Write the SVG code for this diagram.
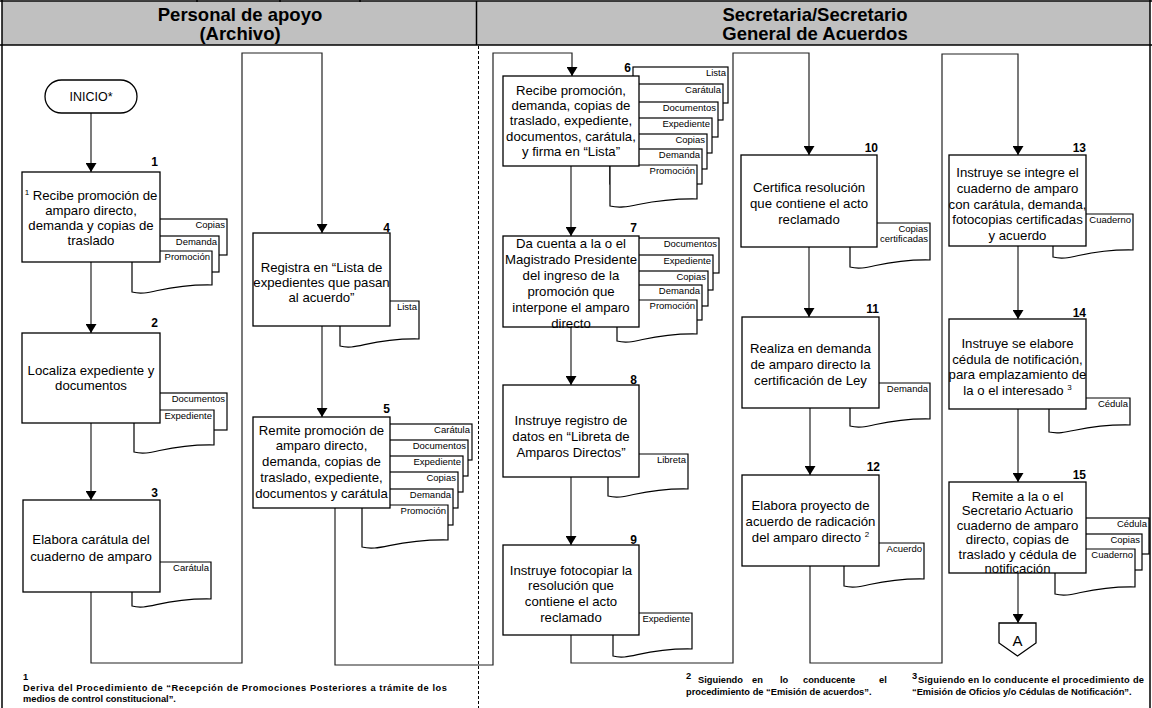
<svg xmlns="http://www.w3.org/2000/svg" width="1152" height="708" viewBox="0 0 1152 708">
  <style>
    .hdr { fill: #c0c0c0; stroke: none; }
    .frame { fill: none; stroke: #000; stroke-width: 1.5; }
    .lane { fill: none; stroke: #000; stroke-width: 1; stroke-dasharray: 3 2; }
    .box { fill: #fff; stroke: #000; stroke-width: 1.3; }
    .doc { fill: #fff; stroke: #000; stroke-width: 1.2; }
    .conn { fill: none; stroke: #222; stroke-width: 1.2; }
    text { font-family: "Liberation Sans", Arial, sans-serif; fill: #000; }
    .ht { font-size: 18.5px; font-weight: bold; text-anchor: middle; }
    .t { font-size: 13.2px; text-anchor: middle; }
    .n { font-size: 12px; font-weight: bold; text-anchor: end; }
    .dl { font-size: 9.5px; text-anchor: end; }
    .fn { font-size: 9.3px; font-weight: bold; }
    .sup { font-size: 8px; }
  </style>
  <defs>
    <marker id="arrow" markerUnits="userSpaceOnUse" markerWidth="10" markerHeight="11" refX="9" refY="5.5" orient="auto">
      <path d="M0,0 L9,5.5 L0,11 Z" fill="#000"/>
    </marker>
  </defs>

  <!-- header band and lane frame -->
  <g id="frame">
    <rect class="hdr" x="2" y="1.5" width="1148" height="43.5"/>
    <line class="frame" x1="0" y1="1" x2="1152" y2="1"/>
    <line class="frame" x1="0" y1="45" x2="1152" y2="45" stroke-width="2"/>
    <line class="frame" x1="2" y1="0" x2="2" y2="708"/>
    <line class="frame" x1="1150" y1="0" x2="1150" y2="708"/>
    <line class="frame" x1="476.5" y1="1" x2="476.5" y2="45"/>
    <line class="lane" x1="478.5" y1="46" x2="478.5" y2="708"/>
    <line class="frame" x1="197" y1="0" x2="197" y2="2"/>
    <line class="frame" x1="280" y1="0" x2="280" y2="2"/>
    <line class="frame" x1="360" y1="0" x2="360" y2="2"/>
    <text class="ht" x="240" y="21">Personal de apoyo</text>
    <text class="ht" x="240" y="40">(Archivo)</text>
    <text class="ht" x="815" y="21">Secretaria/Secretario</text>
    <text class="ht" x="815" y="40">General de Acuerdos</text>
  </g>

  <!-- connectors -->
  <g id="connectors">
    <path class="conn" d="M91,113 V172" marker-end="url(#arrow)"/>
    <path class="conn" d="M91,262 V333" marker-end="url(#arrow)"/>
    <path class="conn" d="M91,423 V500" marker-end="url(#arrow)"/>
    <path class="conn" d="M91,592 V663 H242 V53 H322 V233" marker-end="url(#arrow)"/>
    <path class="conn" d="M322,326 V417" marker-end="url(#arrow)"/>
    <path class="conn" d="M335,508 V665 H493 V53 H572 V76" marker-end="url(#arrow)"/>
    <path class="conn" d="M571,166 V236" marker-end="url(#arrow)"/>
    <path class="conn" d="M571,327 V385" marker-end="url(#arrow)"/>
    <path class="conn" d="M571,477 V545" marker-end="url(#arrow)"/>
    <path class="conn" d="M571,635 V663 H733 V53 H809 V155" marker-end="url(#arrow)"/>
    <path class="conn" d="M809,247 V317" marker-end="url(#arrow)"/>
    <path class="conn" d="M810,408 V475" marker-end="url(#arrow)"/>
    <path class="conn" d="M810,566 V663 H942 V54 H1018 V155" marker-end="url(#arrow)"/>
    <path class="conn" d="M1018,246 V319" marker-end="url(#arrow)"/>
    <path class="conn" d="M1018,409 V482" marker-end="url(#arrow)"/>
    <path class="conn" d="M1018,573 V623" marker-end="url(#arrow)"/>
  </g>

  <!-- start -->
  <g id="inicio">
    <rect class="box" x="45" y="80" width="92" height="33" rx="16.5"/>
    <text x="91" y="101" font-size="12.5" text-anchor="middle">INICIO*</text>
  </g>

  <!-- step 1 -->
  <g id="step1">
    <rect class="doc" x="142" y="219" width="85" height="36"/>
    <text class="dl" x="225" y="228">Copias</text>
    <rect class="doc" x="134" y="236" width="85" height="36"/>
    <text class="dl" x="217" y="245">Demanda</text>
    <path class="doc" d="M132,251 H212 V285 C162,284 150,297 132,292 Z"/>
    <text class="dl" x="210" y="260">Promoción</text>
    <rect class="box" x="22" y="172" width="138" height="90"/>
    <text class="n" x="158" y="166">1</text>
    <text class="t" x="91" y="200"><tspan class="sup" dy="-5">1</tspan><tspan dy="5"> Recibe promoción de</tspan></text>
    <text class="t" x="91" y="215">amparo directo,</text>
    <text class="t" x="91" y="230">demanda y copias de</text>
    <text class="t" x="91" y="245">traslado</text>
  </g>

  <!-- step 2 -->
  <g id="step2">
    <rect class="doc" x="142" y="393" width="85" height="37"/>
    <text class="dl" x="225" y="402">Documentos</text>
    <path class="doc" d="M134,410 H214 V445 C164,444 152,457 134,452 Z"/>
    <text class="dl" x="212" y="419">Expediente</text>
    <rect class="box" x="22" y="333" width="138" height="90"/>
    <text class="n" x="158" y="327">2</text>
    <text class="t" x="91" y="375">Localiza expediente y</text>
    <text class="t" x="91" y="390">documentos</text>
  </g>

  <!-- step 3 -->
  <g id="step3">
    <path class="doc" d="M132,562 H211 V599 C161,598 149,611 132,606 Z"/>
    <text class="dl" x="209" y="571">Carátula</text>
    <rect class="box" x="23" y="500" width="137" height="92"/>
    <text class="n" x="158" y="497">3</text>
    <text class="t" x="91" y="544">Elabora carátula del</text>
    <text class="t" x="91" y="561">cuaderno de amparo</text>
  </g>

  <!-- step 4 -->
  <g id="step4">
    <path class="doc" d="M340,301 H419 V339 C369,338 357,351 340,346 Z"/>
    <text class="dl" x="417" y="310">Lista</text>
    <rect class="box" x="253" y="233" width="137" height="93"/>
    <text class="n" x="390" y="232">4</text>
    <text class="t" x="321.5" y="272">Registra en “Lista de</text>
    <text class="t" x="321.5" y="287">expedientes que pasan</text>
    <text class="t" x="321.5" y="302">al acuerdo”</text>
  </g>

  <!-- step 5 -->
  <g id="step5">
    <rect class="doc" x="382" y="424" width="90" height="36"/>
    <text class="dl" x="470" y="433">Carátula</text>
    <rect class="doc" x="378" y="440" width="90" height="36"/>
    <text class="dl" x="466" y="449">Documentos</text>
    <rect class="doc" x="373" y="456" width="90" height="36"/>
    <text class="dl" x="461" y="465">Expediente</text>
    <rect class="doc" x="368" y="472" width="90" height="36"/>
    <text class="dl" x="456" y="481">Copias</text>
    <rect class="doc" x="363" y="489" width="90" height="36"/>
    <text class="dl" x="451" y="498">Demanda</text>
    <path class="doc" d="M362,505 H448 V540 C394,539 381,552 362,547 Z"/>
    <text class="dl" x="446" y="514">Promoción</text>
    <rect class="box" x="253" y="417" width="137" height="91"/>
    <text class="n" x="390" y="413">5</text>
    <text class="t" x="321.5" y="435">Remite promoción de</text>
    <text class="t" x="321.5" y="450">amparo directo,</text>
    <text class="t" x="321.5" y="466">demanda, copias de</text>
    <text class="t" x="321.5" y="482">traslado, expediente,</text>
    <text class="t" x="321.5" y="498">documentos y carátula</text>
  </g>

  <!-- step 6 -->
  <g id="step6">
    <rect class="doc" x="633" y="67" width="95" height="36"/>
    <text class="dl" x="726" y="76">Lista</text>
    <rect class="doc" x="628" y="84" width="95" height="36"/>
    <text class="dl" x="721" y="93">Carátula</text>
    <rect class="doc" x="623" y="102" width="95" height="35"/>
    <text class="dl" x="716" y="111">Documentos</text>
    <rect class="doc" x="617" y="118" width="95" height="35"/>
    <text class="dl" x="710" y="127">Expediente</text>
    <rect class="doc" x="612" y="134" width="95" height="35"/>
    <text class="dl" x="705" y="143">Copias</text>
    <rect class="doc" x="610" y="149" width="92" height="35"/>
    <text class="dl" x="700" y="158">Demanda</text>
    <path class="doc" d="M610,165 H697 V199 C643,198 630,211 610,206 Z"/>
    <text class="dl" x="695" y="174">Promoción</text>
    <rect class="box" x="503" y="76" width="136" height="90"/>
    <text class="n" x="631" y="72">6</text>
    <text class="t" x="571" y="95">Recibe promoción,</text>
    <text class="t" x="571" y="110">demanda, copias de</text>
    <text class="t" x="571" y="125">traslado, expediente,</text>
    <text class="t" x="571" y="141">documentos, carátula,</text>
    <text class="t" x="571" y="156">y firma en “Lista”</text>
  </g>

  <!-- step 7 -->
  <g id="step7">
    <rect class="doc" x="629" y="238" width="90" height="35"/>
    <text class="dl" x="717" y="247">Documentos</text>
    <rect class="doc" x="623" y="255" width="90" height="35"/>
    <text class="dl" x="711" y="264">Expediente</text>
    <rect class="doc" x="618" y="271" width="90" height="35"/>
    <text class="dl" x="706" y="280">Copias</text>
    <rect class="doc" x="617" y="285" width="85" height="35"/>
    <text class="dl" x="700" y="294">Demanda</text>
    <path class="doc" d="M617,300 H697 V334 C647,333 635,346 617,341 Z"/>
    <text class="dl" x="695" y="309">Promoción</text>
    <rect class="box" x="503" y="236" width="136" height="91"/>
    <text class="n" x="637" y="232">7</text>
    <text class="t" x="571" y="248">Da cuenta a la o el</text>
    <text class="t" x="571" y="264">Magistrado Presidente</text>
    <text class="t" x="571" y="280">del ingreso de la</text>
    <text class="t" x="571" y="296">promoción que</text>
    <text class="t" x="571" y="312">interpone el amparo</text>
    <text class="t" x="571" y="328">directo</text>
  </g>

  <!-- step 8 -->
  <g id="step8">
    <path class="doc" d="M608,454 H688 V489 C638,488 626,501 608,496 Z"/>
    <text class="dl" x="686" y="463">Libreta</text>
    <rect class="box" x="503" y="385" width="136" height="92"/>
    <text class="n" x="637" y="384">8</text>
    <text class="t" x="571" y="425">Instruye registro de</text>
    <text class="t" x="571" y="441">datos en “Libreta de</text>
    <text class="t" x="571" y="457">Amparos Directos”</text>
  </g>

  <!-- step 9 -->
  <g id="step9">
    <path class="doc" d="M613,613 H692 V649 C642,648 630,661 613,656 Z"/>
    <text class="dl" x="690" y="622">Expediente</text>
    <rect class="box" x="503" y="545" width="136" height="90"/>
    <text class="n" x="637" y="544">9</text>
    <text class="t" x="571" y="575">Instruye fotocopiar la</text>
    <text class="t" x="571" y="590">resolución que</text>
    <text class="t" x="571" y="606">contiene el acto</text>
    <text class="t" x="571" y="622">reclamado</text>
  </g>

  <!-- step 10 -->
  <g id="step10">
    <path class="doc" d="M850,223 H930 V260 C880,259 868,272 850,267 Z"/>
    <text class="dl" x="928" y="232">Copias</text>
    <text class="dl" x="928" y="242">certificadas</text>
    <rect class="box" x="741" y="155" width="136" height="92"/>
    <text class="n" x="878" y="152">10</text>
    <text class="t" x="809" y="192">Certifica resolución</text>
    <text class="t" x="809" y="208">que contiene el acto</text>
    <text class="t" x="809" y="224">reclamado</text>
  </g>

  <!-- step 11 -->
  <g id="step11">
    <path class="doc" d="M850,383 H930 V419 C880,418 868,431 850,426 Z"/>
    <text class="dl" x="928" y="392">Demanda</text>
    <rect class="box" x="742" y="317" width="137" height="91"/>
    <text class="n" x="879" y="313">11</text>
    <text class="t" x="810.5" y="353">Realiza en demanda</text>
    <text class="t" x="810.5" y="369">de amparo directo la</text>
    <text class="t" x="810.5" y="385">certificación de Ley</text>
  </g>

  <!-- step 12 -->
  <g id="step12">
    <path class="doc" d="M844,543 H924 V579 C874,578 862,591 844,586 Z"/>
    <text class="dl" x="922" y="552">Acuerdo</text>
    <rect class="box" x="742" y="475" width="137" height="91"/>
    <text class="n" x="880" y="471">12</text>
    <text class="t" x="810.5" y="510">Elabora proyecto de</text>
    <text class="t" x="810.5" y="526">acuerdo de radicación</text>
    <text class="t" x="810.5" y="542">del amparo directo <tspan class="sup" dy="-5">2</tspan></text>
  </g>

  <!-- step 13 -->
  <g id="step13">
    <path class="doc" d="M1053,214 H1133 V250 C1083,249 1071,262 1053,257 Z"/>
    <text class="dl" x="1131" y="223">Cuaderno</text>
    <rect class="box" x="949" y="155" width="137" height="91"/>
    <text class="n" x="1086" y="152">13</text>
    <text class="t" x="1017.5" y="177">Instruye se integre el</text>
    <text class="t" x="1017.5" y="193">cuaderno de amparo</text>
    <text class="t" x="1017.5" y="209">con carátula, demanda,</text>
    <text class="t" x="1017.5" y="224">fotocopias certificadas</text>
    <text class="t" x="1017.5" y="240">y acuerdo</text>
  </g>

  <!-- step 14 -->
  <g id="step14">
    <path class="doc" d="M1049,398 H1130 V425 C1080,424 1068,436 1049,432 Z"/>
    <text class="dl" x="1128" y="407">Cédula</text>
    <rect class="box" x="949" y="319" width="137" height="90"/>
    <text class="n" x="1086" y="317">14</text>
    <text class="t" x="1017.5" y="348">Instruye se elabore</text>
    <text class="t" x="1017.5" y="364">cédula de notificación,</text>
    <text class="t" x="1017.5" y="379">para emplazamiento de</text>
    <text class="t" x="1017.5" y="395">la o el interesado <tspan class="sup" dy="-5">3</tspan></text>
  </g>

  <!-- step 15 -->
  <g id="step15">
    <rect class="doc" x="1059" y="518" width="90" height="36"/>
    <text class="dl" x="1147" y="527">Cédula</text>
    <rect class="doc" x="1055" y="534" width="87" height="36"/>
    <text class="dl" x="1140" y="543">Copias</text>
    <path class="doc" d="M1055,549 H1135 V587 C1085,586 1073,599 1055,594 Z"/>
    <text class="dl" x="1133" y="558">Cuaderno</text>
    <rect class="box" x="949" y="482" width="137" height="91"/>
    <text class="n" x="1086" y="479">15</text>
    <text class="t" x="1017.5" y="500.5">Remite a la o el</text>
    <text class="t" x="1017.5" y="515">Secretario Actuario</text>
    <text class="t" x="1017.5" y="529.5">cuaderno de amparo</text>
    <text class="t" x="1017.5" y="544">directo, copias de</text>
    <text class="t" x="1017.5" y="558.5">traslado y cédula de</text>
    <text class="t" x="1017.5" y="573">notificación</text>
  </g>

  <!-- off-page connector -->
  <g id="offpage-a">
    <path class="box" d="M999,623 H1036 V643 L1017.5,656 L999,643 Z"/>
    <text x="1017.5" y="646" font-size="15" text-anchor="middle">A</text>
  </g>

  <!-- footnotes -->
  <g id="notes">
    <text class="fn" x="23" y="680" font-size="6">1</text>
    <text class="fn" x="23" y="691" textLength="424" lengthAdjust="spacing">Deriva del Procedimiento de “Recepción de Promociones Posteriores a trámite de los</text>
    <text class="fn" x="23" y="702">medios de control constitucional”.</text>

    <text class="fn" x="686" y="679" font-size="6">2</text>
    <text class="fn" x="698" y="683">Siguiendo</text>
    <text class="fn" x="752" y="683">en</text>
    <text class="fn" x="780" y="683">lo</text>
    <text class="fn" x="803" y="683">conducente</text>
    <text class="fn" x="879" y="683">el</text>
    <text class="fn" x="686" y="695">procedimiento de “Emisión de acuerdos”.</text>

    <text class="fn" x="912" y="679" font-size="6">3</text>
    <text class="fn" x="918" y="683" textLength="226" lengthAdjust="spacing">Siguiendo en lo conducente el procedimiento de</text>
    <text class="fn" x="912" y="695">“Emisión de Oficios y/o Cédulas de Notificación”.</text>
  </g>
</svg>
